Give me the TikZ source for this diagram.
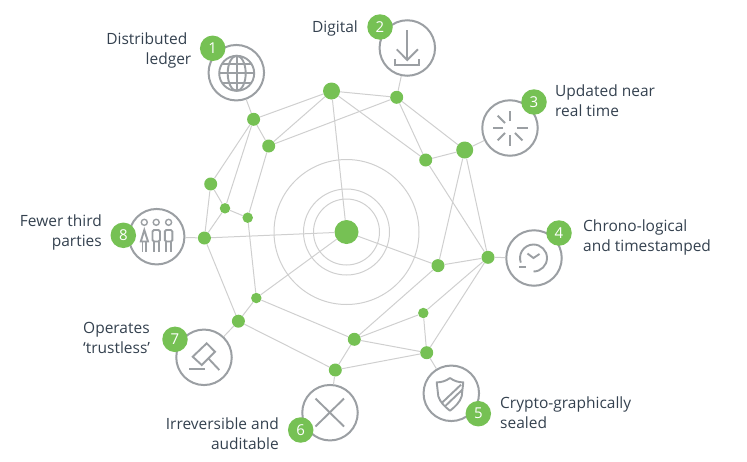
\documentclass[tikz,border=0pt]{standalone}
\usepackage{fontspec}
\setmainfont{Open Sans}
\usepackage{tikz}

\definecolor{dotgreen}{HTML}{76C154}
\definecolor{icongrey}{HTML}{9B9FA3}
\definecolor{linkgrey}{HTML}{CFCFCF}
\definecolor{labelblue}{HTML}{34414F}

\tikzset{
	smalldot/.style={shape=circle, fill=dotgreen, inner sep=0pt, minimum size=10.5pt},
	middot/.style={shape=circle, fill=dotgreen, inner sep=0pt, minimum size=13pt},
	bigdot/.style={shape=circle, fill=dotgreen, inner sep=0pt, minimum size=17pt},
	ring/.style={shape=circle, draw=linkgrey, line width=1pt, inner sep=0pt},
	iconring/.style={shape=circle, draw=icongrey, line width=2pt, fill=white, inner sep=0pt, minimum size=55.5pt},
	badge/.style={shape=circle, fill=dotgreen, text=white, inner sep=0pt, minimum size=25.5pt, font=\fontsize{15}{17}\selectfont},
	label/.style={text=labelblue, inner sep=0pt, font=\fontsize{15.5}{20}\selectfont},
	link/.style={-, draw=linkgrey, line width=1pt},
	glyph/.style={draw=icongrey, line width=1.9pt}
}

\begin{document}
\begin{tikzpicture}[x=1pt,y=-1pt]
	\useasboundingbox (0,0) rectangle (747,461);

	% rings round the centre
	\node[ring, minimum size=66pt] (r1) at (346.5,232) {};
	\node[ring, minimum size=86pt] (r2) at (346.5,232) {};
	\node[ring, minimum size=145pt] (r3) at (346.5,232) {};

	% network
	\node[shape=circle, fill=dotgreen, inner sep=0pt, minimum size=24pt] (c) at (346.5,232) {};
	\node[middot] (1) at (253.6,119.3) {};
	\node[middot] (2) at (268.7,146) {};
	\node[bigdot] (3) at (331.5,91) {};
	\node[middot] (4) at (396.7,97.3) {};
	\node[middot] (5) at (425.7,160) {};
	\node[bigdot] (6) at (464.7,150) {};
	\node[middot] (7) at (488,257.3) {};
	\node[middot] (8) at (438,265.6) {};
	\node[smalldot] (9) at (423.3,313) {};
	\node[middot] (10) at (426.7,352.7) {};
	\node[middot] (11) at (354.3,339.3) {};
	\node[middot] (12) at (335.3,370) {};
	\node[smalldot] (13) at (256.3,298) {};
	\node[middot] (14) at (238.4,321.2) {};
	\node[middot] (15) at (204.4,238) {};
	\node[smalldot] (16) at (225,208.3) {};
	\node[smalldot] (17) at (247.7,217.7) {};
	\node[middot] (18) at (210.7,184) {};

	% icon circles
	\node[iconring] (i1) at (236.3,72.7) {};
	\node[iconring] (i2) at (407.3,48) {};
	\node[iconring] (i3) at (510,128) {};
	\node[iconring] (i4) at (534,258) {};
	\node[iconring] (i5) at (451.3,393.3) {};
	\node[iconring] (i6) at (330,412.7) {};
	\node[iconring] (i7) at (204,357.3) {};
	\node[iconring] (i8) at (156.7,236.7) {};

	\path [link] (i1) edge (1);
	\path [link] (i2) edge (4);
	\path [link] (i3) edge (6);
	\path [link] (i4) edge (7);
	\path [link] (i5) edge (10);
	\path [link] (i6) edge (12);
	\path [link] (i7) edge (14);
	\path [link] (i8) edge (15);
	\path [link] (c) edge (3);
	\path [link] (c) edge (8);
	\path [link] (c) edge (13);
	\path [link] (c) edge (15);
	\path [link] (1) edge (2);
	\path [link] (1) edge (3);
	\path [link] (1) edge (16);
	\path [link] (1) edge (18);
	\path [link] (2) edge (3);
	\path [link] (2) edge (4);
	\path [link] (2) edge (17);
	\path [link] (3) edge (4);
	\path [link] (3) edge (5);
	\path [link] (4) edge (5);
	\path [link] (4) edge (6);
	\path [link] (5) edge (6);
	\path [link] (5) edge (7);
	\path [link] (6) edge (7);
	\path [link] (6) edge (8);
	\path [link] (7) edge (8);
	\path [link] (7) edge (9);
	\path [link] (7) edge (10);
	\path [link] (8) edge (11);
	\path [link] (9) edge (10);
	\path [link] (9) edge (11);
	\path [link] (10) edge (11);
	\path [link] (10) edge (12);
	\path [link] (11) edge (12);
	\path [link] (11) edge (13);
	\path [link] (12) edge (14);
	\path [link] (13) edge (14);
	\path [link] (13) edge (17);
	\path [link] (14) edge (15);
	\path [link] (15) edge (16);
	\path [link] (15) edge (18);
	\path [link] (16) edge (17);
	\path [link] (16) edge (18);

	% globe
	\draw[glyph] (236.7,73.3) circle (17.5);
	\draw[glyph] (236.7,73.3) ellipse (9 and 17.5);
	\draw[glyph] (236.7,55.8) -- (236.7,90.8);
	\draw[glyph] (219.2,73.3) -- (254.2,73.3);
	\draw[glyph] (222,64) -- (251.4,64);
	\draw[glyph] (222,82.6) -- (251.4,82.6);
	% download
	\draw[glyph] (407.3,30) -- (407.3,60);
	\draw[glyph] (396.7,49.3) -- (407.3,60) -- (418,49.3);
	\draw[glyph] (395,59.3) -- (395,65) -- (419.3,65) -- (419.3,59.3);
	% spinner
	\foreach \a in {0,45,90,135,180,225,270}
		\draw[glyph] (510,128) ++(\a:7) -- ++(\a:10.5);
	% clock
	\draw[glyph] (533.5,271.5) arc (90:-200:13.5);
	\draw[glyph] (519,267) -- (526,267);
	\draw[glyph] (527.5,253.5) -- (533.5,258) -- (539.5,254);
	% shield
	\draw[glyph, line join=round] (450,378) .. controls (446,381) and (441,382.5) .. (436.7,382.3) -- (438.3,396.3) .. controls (440,402) and (445,407) .. (450,410.7) .. controls (455,407) and (460,402) .. (461.7,396.3) -- (463.3,382.3) .. controls (459,382.5) and (454,381) .. (450,378);
	\draw[glyph] (441.7,403) -- (461,384.7);
	\draw[glyph] (445,406.3) -- (462.3,389.7);
	% cross
	\draw[glyph] (315.5,398.5) -- (344,426.5);
	\draw[glyph] (344,398.5) -- (315.5,426.5);
	% gavel
	\draw[glyph] (192.7,356.7) -- (206.7,343.3) -- (215,351.7) -- (201.7,365) -- cycle;
	\draw[glyph] (208.3,358.3) -- (219.3,370);
	\draw[glyph] (189,369.3) -- (205,369.3);
	% three people
	\draw[glyph, line width=1.4pt] (144.3,222.3) circle (3);
	\draw[glyph, line width=1.4pt] (156.2,222.3) circle (3);
	\draw[glyph, line width=1.4pt] (168.6,222.3) circle (3);
	\draw[glyph] (144.3,230) -- (140.8,241.5) -- (148,241.5) -- cycle;
	\draw[glyph] (142.5,241.5) -- (142.5,251.5);
	\draw[glyph] (146.3,241.5) -- (146.3,251.5);
	\draw[glyph, rounded corners=1.5pt] (152.5,241.5) -- (152.5,230) -- (160,230) -- (160,241.5) -- cycle;
	\draw[glyph] (153.8,241.5) -- (153.8,251.5);
	\draw[glyph] (158.6,241.5) -- (158.6,251.5);
	\draw[glyph, rounded corners=1.5pt] (164.8,241.5) -- (164.8,230) -- (172.4,230) -- (172.4,241.5) -- cycle;
	\draw[glyph] (166,241.5) -- (166,251.5);
	\draw[glyph] (171,241.5) -- (171,251.5);

	% number badges
	\node[badge] (b1) at (212.7,48.3) {1};
	\node[badge] (b2) at (380,27) {2};
	\node[badge] (b3) at (534,102) {3};
	\node[badge] (b4) at (559,233) {4};
	\node[badge] (b5) at (478.3,413.7) {5};
	\node[badge] (b6) at (300.7,430) {6};
	\node[badge] (b7) at (175,339.3) {7};
	\node[badge] (b8) at (123.3,235.3) {8};

	% labels
	\node[label, align=right, anchor=east] (t1) at (191.5,50) {Distributed\hspace*{4pt}\\ledger};
	\node[label, anchor=east] (t2) at (358,28) {Digital};
	\node[label, align=left, anchor=west] (t3) at (555,101) {Updated near\\real time};
	\node[label, align=left, anchor=west] (t4) at (583,237) {Chrono-logical\\and timestamped};
	\node[label, align=left, anchor=west] (t5) at (500,412.5) {Crypto-graphically\\sealed};
	\node[label, align=right, anchor=east] (t6) at (279,434) {Irreversible and\\auditable};
	\node[label, align=left, anchor=west] (t7) at (83,337.5) {Operates\\‘trustless’};
	\node[label, align=right, anchor=east] (t8) at (102,232) {Fewer third\\parties};
\end{tikzpicture}
\end{document}
